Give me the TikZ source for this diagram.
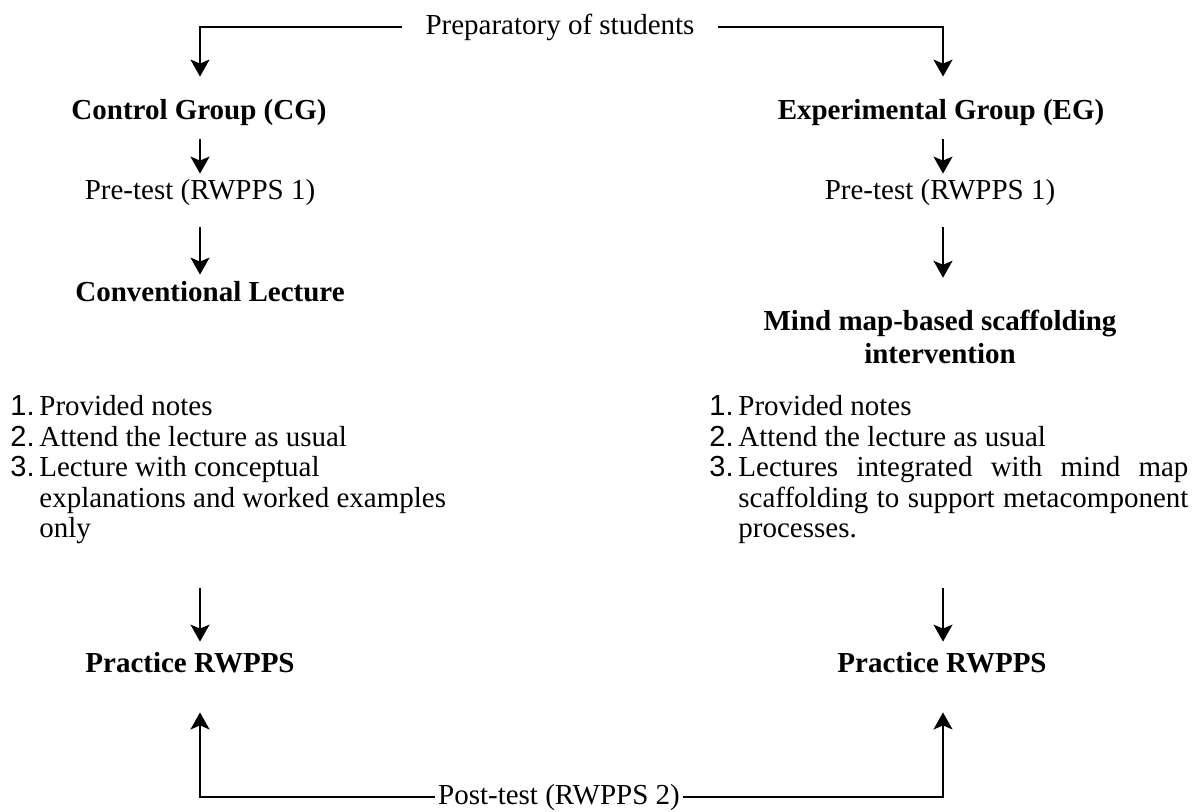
\documentclass[tikz,border=0pt]{standalone}
\usepackage{fontspec}
\setmainfont{Liberation Serif}
\newfontfamily\numfont{Liberation Sans}
\usetikzlibrary{arrows.meta,calc}

\newcommand{\basefont}{\fontsize{14.5}{15.25}\selectfont}
\tikzset{
  flow/.style={-{Stealth[length=8.5pt,width=9.5pt,inset=2pt]},line width=1pt},
  head/.style={font=\basefont\bfseries,inner sep=0pt,text height=10pt,text depth=3pt},
  twoline/.style={font=\fontsize{14.5}{16.5}\selectfont\bfseries,inner sep=0pt,align=center},
  plain/.style={font=\basefont,inner sep=0pt,text height=10pt,text depth=3pt},
  steps/.style={font=\basefont,align=left,inner sep=0pt,anchor=north west}
}
\newcommand{\itm}[1]{\makebox[14.5pt][l]{\numfont #1.}}

\begin{document}
\begin{tikzpicture}[x=0.5pt,y=-0.5pt]
  \useasboundingbox[fill=white] (0,0) rectangle (1192,811);
  % columns of the two groups
  \coordinate (lcol) at (200,0);
  \coordinate (rcol) at (943,0);

  % top
  \node[plain,inner xsep=11.5pt] (prep) at (560,27) {Preparatory of students};

  % control group
  \node[head] (cg) at (199,112) {Control Group (CG)};
  \node[plain] (precg) at (200,192) {Pre-test (RWPPS 1)};
  \node[head] (conv) at (210,294) {Conventional Lecture};
  \node[steps] (cglist) at (10,395) {%
    \itm{1}Provided notes\\
    \itm{2}Attend the lecture as usual\\
    \itm{3}Lecture with conceptual\\
    \hspace*{14.5pt}explanations and worked examples\\
    \hspace*{14.5pt}only};
  \node[head] (praccg) at (190,665) {Practice RWPPS};

  % experimental group
  \node[head] (eg) at (941,112) {Experimental Group (EG)};
  \node[plain] (preeg) at (940,192) {Pre-test (RWPPS 1)};
  \node[twoline] (mind) at (940,337) {Mind map-based scaffolding\\intervention};
  \node[steps] (eglist) at (709,395) {%
    \itm{1}Provided notes\\
    \itm{2}Attend the lecture as usual\\
    \itm{3}\makebox[225pt][s]{Lectures integrated with mind map}\\
    \hspace*{14.5pt}\makebox[225pt][s]{scaffolding to support metacomponent}\\
    \hspace*{14.5pt}processes.};
  \node[head] (praceg) at (942,665) {Practice RWPPS};

  % bottom
  \node[plain,inner xsep=1.5pt] (post) at (559,797) {Post-test (RWPPS 2)};

  % connectors
  \draw[flow,shorten >=11pt] (prep.west) -| (lcol |- cg.north);
  \draw[flow,shorten >=11pt] (prep.east) -| (rcol |- eg.north);
  \draw[flow,shorten <=7pt,shorten >=2.5pt] (lcol |- cg.south) -- (lcol |- precg.north);
  \draw[flow,shorten <=7pt,shorten >=2.5pt] (rcol |- eg.south) -- (rcol |- preeg.north);
  \draw[flow,shorten <=11pt,shorten >=3pt] (lcol |- precg.south) -- (lcol |- conv.north);
  \draw[flow,shorten <=11pt,shorten >=16pt] (rcol |- preeg.south) -- (rcol |- mind.north);
  \draw[flow,shorten <=22pt,shorten >=5pt] (lcol |- cglist.south) -- (lcol |- praccg.north);
  \draw[flow,shorten <=22pt,shorten >=5pt] (rcol |- eglist.south) -- (rcol |- praceg.north);
  \draw[flow,shorten >=17pt] (post.west) -| (lcol |- praccg.south);
  \draw[flow,shorten >=17pt] (post.east) -| (rcol |- praceg.south);
\end{tikzpicture}
\end{document}
